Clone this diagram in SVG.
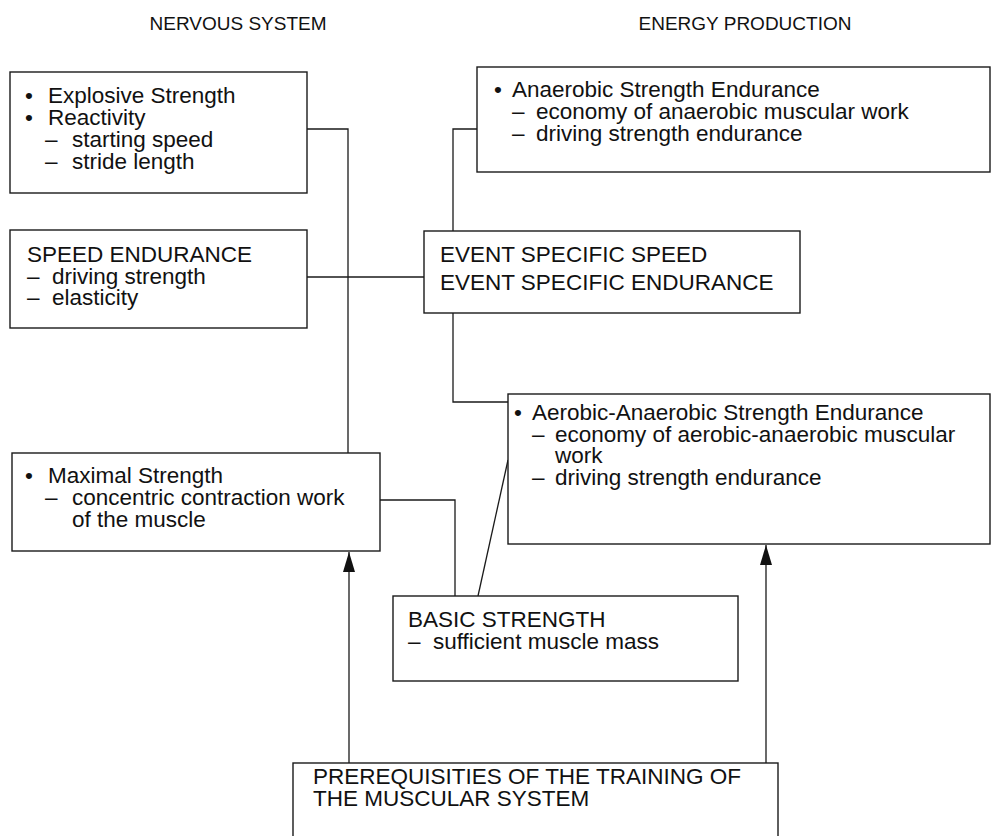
<svg xmlns="http://www.w3.org/2000/svg" width="992" height="836" viewBox="0 0 992 836">
<defs>
<style>
.box{fill:#fff;stroke:#1a1a1a;stroke-width:1.4}
.t{font-family:"Liberation Sans",Arial,sans-serif;font-size:22.5px;fill:#111}
.h{font-family:"Liberation Sans",Arial,sans-serif;font-size:19px;fill:#111}
.c{fill:none;stroke:#1a1a1a;stroke-width:1.3}
</style>
<marker id="arr" viewBox="0 0 20 12" refX="20" refY="6" markerWidth="20" markerHeight="12" markerUnits="userSpaceOnUse" orient="auto">
<path d="M0,0 L20,6 L0,12 Z" fill="#111"/>
</marker>
</defs>
<rect width="992" height="836" fill="#fff"/>
<text class="h" x="238" y="30" text-anchor="middle">NERVOUS SYSTEM</text>
<text class="h" x="745" y="30" text-anchor="middle">ENERGY PRODUCTION</text>
<g id="connectors">
<polyline class="c" points="307,129 348,129 348,453"/>
<line class="c" x1="307" y1="277" x2="424" y2="277"/>
<polyline class="c" points="477,129 453,129 453,231"/>
<polyline class="c" points="453,313 453,402 508,402"/>
<polyline class="c" points="380,500 455,500 455,596"/>
<line class="c" x1="508" y1="460" x2="478" y2="596"/>
<line class="c" x1="349" y1="763" x2="349" y2="552" marker-end="url(#arr)"/>
<line class="c" x1="766" y1="763" x2="766" y2="545" marker-end="url(#arr)"/>
</g>
<g id="explosive">
<rect class="box" x="10" y="72" width="297" height="121"/>
<text class="t"><tspan x="25" y="103">•</tspan><tspan x="48" y="103">Explosive Strength</tspan>
<tspan x="25" y="125">•</tspan><tspan x="48" y="125">Reactivity</tspan>
<tspan x="45" y="147">–</tspan><tspan x="72" y="147">starting speed</tspan>
<tspan x="45" y="169">–</tspan><tspan x="72" y="169">stride length</tspan></text>
</g>
<g id="anaerobic">
<rect class="box" x="477" y="67" width="513" height="105"/>
<text class="t"><tspan x="494" y="97">•</tspan><tspan x="512" y="97">Anaerobic Strength Endurance</tspan>
<tspan x="512" y="119">–</tspan><tspan x="536" y="119">economy of anaerobic muscular work</tspan>
<tspan x="512" y="141">–</tspan><tspan x="536" y="141">driving strength endurance</tspan></text>
</g>
<g id="speed-endurance">
<rect class="box" x="10" y="230" width="297" height="98"/>
<text class="t"><tspan x="27" y="262">SPEED ENDURANCE</tspan>
<tspan x="27" y="284">–</tspan><tspan x="52" y="284">driving strength</tspan>
<tspan x="27" y="305">–</tspan><tspan x="52" y="305">elasticity</tspan></text>
</g>
<g id="event">
<rect class="box" x="424" y="231" width="376" height="82"/>
<text class="t"><tspan x="440" y="262">EVENT SPECIFIC SPEED</tspan>
<tspan x="440" y="290">EVENT SPECIFIC ENDURANCE</tspan></text>
</g>
<g id="aerobic">
<rect class="box" x="508" y="394" width="482" height="150"/>
<text class="t"><tspan x="514" y="420">•</tspan><tspan x="532" y="420">Aerobic-Anaerobic Strength Endurance</tspan>
<tspan x="532" y="442">–</tspan><tspan x="555" y="442">economy of aerobic-anaerobic muscular</tspan>
<tspan x="555" y="463">work</tspan>
<tspan x="532" y="485">–</tspan><tspan x="555" y="485">driving strength endurance</tspan></text>
</g>
<g id="maximal">
<rect class="box" x="12" y="453" width="368" height="98"/>
<text class="t"><tspan x="25" y="483">•</tspan><tspan x="48" y="483">Maximal Strength</tspan>
<tspan x="45" y="505">–</tspan><tspan x="72" y="505">concentric contraction work</tspan>
<tspan x="72" y="527">of the muscle</tspan></text>
</g>
<g id="basic">
<rect class="box" x="393" y="596" width="345" height="85"/>
<text class="t"><tspan x="408" y="627">BASIC STRENGTH</tspan>
<tspan x="408" y="649">–</tspan><tspan x="433" y="649">sufficient muscle mass</tspan></text>
</g>
<g id="prerequisites">
<rect class="box" x="293" y="763" width="485" height="80"/>
<text class="t"><tspan x="313" y="784">PREREQUISITIES OF THE TRAINING OF</tspan>
<tspan x="313" y="806">THE MUSCULAR SYSTEM</tspan></text>
</g>
</svg>
